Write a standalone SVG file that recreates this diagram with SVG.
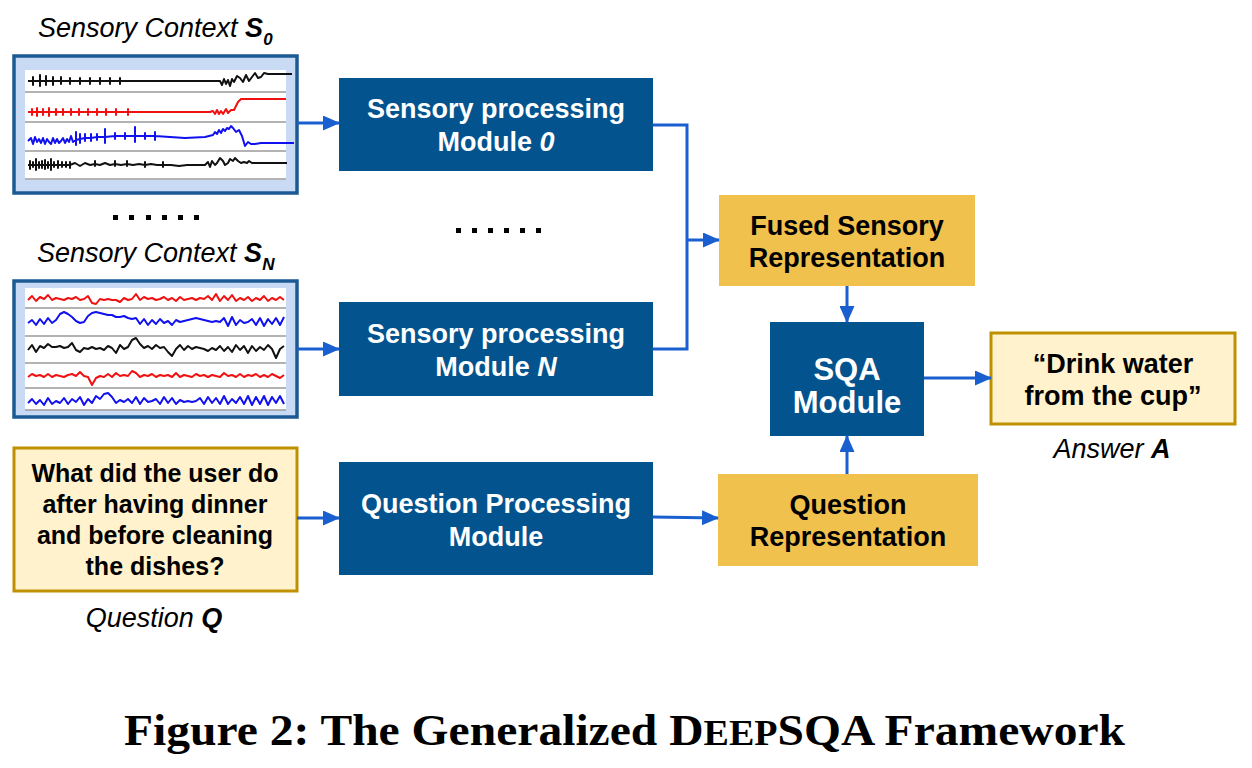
<svg xmlns="http://www.w3.org/2000/svg" width="1252" height="768" viewBox="0 0 1252 768">
<style>
.lbl{font-family:"Liberation Sans",Arial,sans-serif;font-size:27px;font-style:italic;fill:#000}
.b{font-weight:bold}
.mod{fill:#03538f}
.mt{font-family:"Liberation Sans",Arial,sans-serif;font-size:27px;font-weight:bold;fill:#fff;text-anchor:middle}
.big{font-size:31px}
.rep{fill:#f1c14d}
.rt{font-family:"Liberation Sans",Arial,sans-serif;font-size:27px;font-weight:bold;fill:#000;text-anchor:middle}
.qt{font-family:"Liberation Sans",Arial,sans-serif;font-size:25px;font-weight:bold;fill:#000;text-anchor:middle}
.qa{fill:#fff2cc;stroke:#bf9000;stroke-width:3}
.sbox{fill:#c9daf5;stroke:#1b5a94;stroke-width:3.5}
.inner{fill:#fff}
.sep{stroke:#9a9a9a;stroke-width:1.5}
.sig{fill:none;stroke-width:2;stroke-linejoin:round}
.k{stroke:#111}
.r{stroke:#f01010}
.bl{stroke:#1010f0}
.conn{fill:none;stroke:#1a5fd0;stroke-width:3}
.dot{fill:#000}
.sub{font-size:17px}
.sc{font-size:36px}
</style>
<defs>
<marker id="ah" markerUnits="userSpaceOnUse" markerWidth="17" markerHeight="15" refX="16" refY="7.5" orient="auto">
<path d="M0,0 L17,7.5 L0,15 z" fill="#1a5fd0"/>
</marker>
</defs>
<rect width="1252" height="768" fill="#fff"/>

<g id="sensory0">
<text class="lbl" x="38" y="37">Sensory Context <tspan class="b">S</tspan><tspan class="b sub" dy="8">0</tspan></text>
<rect class="sbox" x="14" y="56" width="283" height="137"/>
<rect class="inner" x="25" y="70" width="261" height="110"/>
<line class="sep" x1="25" y1="92" x2="286" y2="92"/>
<line class="sep" x1="25" y1="122" x2="286" y2="122"/>
<line class="sep" x1="25" y1="151" x2="286" y2="151"/>
<line class="sep" x1="25" y1="179" x2="286" y2="179"/>
<path class="sig k" d="M28,81 h5 v-4 v8 v-4 h7 v-6 v11 v-5 h6 v-5 v9 v-4 h7 v-4 v8 v-4 h8 v-4 v7 v-3 h9 v-3 v6 v-3 h10 v-3 v6 v-3 h10 v-3 v6 v-3 h10 v-3 v6 v-3 h10 v-3 v6 v-3 h10 v-3 v6 v-3 h100 l2,4 l2,-6 l2,5 l2,-4 l2,6 l2,-7 l2,3 l3,-6 l3,2 l3,4 l3,-7 l3,6 l3,-4 l3,-4 l3,5 l3,-1 l3,-4 l4,1 h24"/>
<path class="sig r" d="M28,112 h4 v-3 v6 v-3 h5 v-4 v8 v-4 h6 v-3 v6 v-3 h6 v-4 v8 v-4 h7 v-3 v6 v-3 h7 v-3 v6 v-3 h8 v-3 v6 v-3 h8 v-3 v6 v-3 h9 v-3 v6 v-3 h9 v-3 v6 v-3 h9 v-3 v6 v-3 h10 v-3 v6 v-3 h12 v-3 v6 v-3 h82 l3,-1 l2,3 l2,-4 l2,4 l2,-3 l2,3 l3,-5 l2,4 l3,-3 l3,0 l4,-8 l3,-3 h45"/>
<path class="sig bl" d="M28,141 l3,-3 l2,6 l2,-7 l2,5 l2,-3 l2,4 l2,-5 l2,6 l2,-5 l2,3 l2,2 l2,-6 l2,5 l2,-4 l2,4 l2,-2 l2,-3 l2,5 l2,-4 l2,3 l2,-6 l2,6 l3,-2 v-8 v13 v-5 l4,-1 v-5 v9 v-4 l5,-1 v-4 v7 v-3 l6,0 v-4 v7 v-3 l6,-1 v-3 v6 v-3 l8,0 v-8 v14 v-6 l10,-1 v-3 v6 v-3 l10,0 v-3 v6 v-3 l10,0 v-9 v15 v-6 l10,0 v-3 v6 v-3 l10,0 v-4 v8 v-4 l30,2 l20,-1 l8,-2 l2,-3 l2,2 l2,-4 l2,3 l2,-4 l2,2 l2,-3 l2,1 l2,-3 l2,2 l3,4 l3,-2 l3,6 l3,10 l3,-4 l3,2 l4,0 l6,-1 h33"/>
<path class="sig k" d="M28,165 h2 v-4 v8 v-4 h3 v-3 v5 v-2 h3 v-6 v11 v-5 h3 v-3 v6 v-3 h3 v-4 v7 v-3 h3 v-5 v9 v-4 h3 v-3 v6 v-3 h3 v-6 v11 v-5 h3 v-3 v5 v-2 h4 v-4 v7 v-3 h4 v-3 v5 v-2 h4 v-3 v5 v-2 h4 v-3 v6 v-3 l5,-2 l5,3 l5,-3 l5,2 l5,-1 v-3 v5 v-2 l5,1 l5,-2 l5,2 l5,-1 v-3 v5 v-2 l6,1 l6,-1 v-3 v5 v-2 l6,1 l6,-1 l6,1 v-3 v5 v-2 l6,-1 l6,1 l6,0 v-3 v5 v-2 l8,0 l8,1 l8,-1 l10,0 l8,0 l3,-3 l2,5 l2,-6 l3,4 l2,-2 l3,-5 l3,3 l2,4 l3,-2 l2,-4 l3,2 l2,-3 l3,3 l3,2 l3,-1 l3,1 l2,-2 l3,2 h35"/>
</g>

<g id="dotsLeft" class="dot">
<rect x="113" y="215" width="5" height="5"/><rect x="129" y="215" width="5" height="5"/><rect x="146" y="215" width="5" height="5"/><rect x="162" y="215" width="5" height="5"/><rect x="178" y="215" width="5" height="5"/><rect x="194" y="215" width="5" height="5"/>
</g>
<g id="dotsMid" class="dot">
<rect x="456" y="228" width="5" height="5"/><rect x="472" y="228" width="5" height="5"/><rect x="488" y="228" width="5" height="5"/><rect x="504" y="228" width="5" height="5"/><rect x="520" y="228" width="5" height="5"/><rect x="536" y="228" width="5" height="5"/>
</g>

<g id="sensoryN">
<text class="lbl" x="37" y="262">Sensory Context <tspan class="b">S</tspan><tspan class="b sub" dy="8">N</tspan></text>
<rect class="sbox" x="14" y="281" width="283" height="136"/>
<rect class="inner" x="25" y="288" width="261" height="122"/>
<line class="sep" x1="25" y1="308" x2="286" y2="308"/>
<line class="sep" x1="25" y1="336" x2="286" y2="336"/>
<line class="sep" x1="25" y1="363" x2="286" y2="363"/>
<line class="sep" x1="25" y1="388" x2="286" y2="388"/>
<line class="sep" x1="25" y1="410" x2="286" y2="410"/>
<path class="sig r" d="M28,300 32,296 36,301 40,297 44,299 48,295 52,300 56,298 60,299 64,300 68,298 72,299 76,297 80,300 84,299 88,296 92,303 96,304 100,299 104,300 108,299 112,300 116,300 120,302 124,298 128,300 132,299 136,294 140,300 144,297 148,299 152,298 156,300 160,299 164,297 168,300 172,298 176,301 180,297 184,300 188,299 192,298 196,300 200,298 204,299 208,296 212,300 216,294 220,301 224,296 228,300 232,295 236,301 240,298 244,300 248,297 252,301 256,298 260,300 264,296 268,301 272,298 276,300 280,297 284,300"/>
<path class="sig bl" d="M28,323 32,320 36,325 40,319 44,324 48,318 52,323 56,320 60,314 64,312 68,314 72,317 76,321 80,323 84,322 88,316 92,313 96,312 100,313 104,314 108,315 112,315 116,317 120,317 124,316 128,318 132,319 136,318 140,324 144,319 148,325 152,320 156,324 160,319 164,323 168,321 172,325 176,320 180,322 184,321 188,320 192,319 196,318 200,319 204,320 208,321 212,322 216,321 220,322 224,318 228,326 232,317 236,325 240,320 244,323 248,322 252,319 256,325 260,318 264,326 268,319 272,324 276,318 280,325 284,317"/>
<path class="sig k" d="M28,350 32,345 36,352 40,346 44,348 48,344 52,347 56,347 60,346 64,348 68,347 72,343 76,350 80,352 84,348 88,349 92,347 96,349 100,348 104,350 108,346 112,348 116,353 120,345 124,349 128,347 132,340 136,338 140,344 144,348 148,346 152,349 156,345 160,348 164,347 168,352 172,356 176,349 180,345 184,350 188,346 192,349 196,347 200,348 204,349 208,351 212,348 216,350 220,346 224,351 228,347 232,352 236,345 240,350 244,346 248,353 252,346 256,351 260,347 264,350 268,345 272,349 276,358 280,349 284,346"/>
<path class="sig r" d="M28,377 32,374 36,376 40,375 44,377 48,374 52,377 56,375 60,376 64,377 68,375 72,374 76,376 80,372 84,376 88,377 92,385 96,378 100,376 104,377 108,374 112,377 116,373 120,376 124,375 128,376 132,371 136,373 140,377 144,375 148,376 152,374 156,377 160,375 164,376 168,375 172,377 176,373 180,377 184,375 188,376 192,377 196,374 200,376 204,375 208,377 212,375 216,376 220,377 224,373 228,376 232,375 236,377 240,374 244,377 248,375 252,376 256,374 260,377 264,375 268,377 272,374 276,376 280,378 284,375"/>
<path class="sig bl" d="M28,403 32,399 36,404 40,400 44,405 48,398 52,404 56,401 60,403 64,398 68,404 72,399 76,402 80,397 84,405 88,399 92,403 96,396 100,399 104,394 108,393 112,397 116,403 120,400 124,402 128,399 132,403 136,397 140,404 144,398 148,402 152,401 156,399 160,404 164,397 168,403 172,398 176,404 180,400 184,402 188,401 192,402 196,401 200,398 204,404 208,397 212,403 216,398 220,404 224,396 228,404 232,399 236,403 240,397 244,404 248,396 252,405 256,397 260,404 264,396 268,405 272,397 276,403 280,396 284,404"/>
</g>

<g id="question">
<rect class="qa" x="14" y="448" width="283" height="143"/>
<text class="qt" x="155" y="482">What did the user do</text>
<text class="qt" x="155" y="513">after having dinner</text>
<text class="qt" x="155" y="544">and before cleaning</text>
<text class="qt" x="155" y="575">the dishes?</text>
<text class="lbl" x="154" y="627" text-anchor="middle">Question <tspan class="b">Q</tspan></text>
</g>

<g id="module0">
<rect class="mod" x="339" y="78" width="314" height="93"/>
<text class="mt" x="496" y="118">Sensory processing</text>
<text class="mt" x="496" y="151">Module <tspan font-style="italic">0</tspan></text>
</g>

<g id="moduleN">
<rect class="mod" x="339" y="302" width="314" height="94"/>
<text class="mt" x="496" y="343">Sensory processing</text>
<text class="mt" x="496" y="376">Module <tspan font-style="italic">N</tspan></text>
</g>

<g id="qpm">
<rect class="mod" x="339" y="462" width="314" height="113"/>
<text class="mt" x="496" y="513">Question Processing</text>
<text class="mt" x="496" y="546">Module</text>
</g>

<g id="fused">
<rect class="rep" x="719" y="195" width="256" height="91"/>
<text class="rt" x="847" y="235">Fused Sensory</text>
<text class="rt" x="847" y="267">Representation</text>
</g>

<g id="qrep">
<rect class="rep" x="718" y="474" width="260" height="92"/>
<text class="rt" x="848" y="514">Question</text>
<text class="rt" x="848" y="546">Representation</text>
</g>

<g id="sqa">
<rect class="mod" x="770" y="322" width="154" height="114"/>
<text class="mt big" x="847" y="380">SQA</text>
<text class="mt big" x="847" y="413">Module</text>
</g>

<g id="answer">
<rect class="qa" x="991" y="333" width="244" height="91"/>
<text class="rt" x="1113" y="373">“Drink water</text>
<text class="rt" x="1113" y="405">from the cup”</text>
<text class="lbl" x="1112" y="458" text-anchor="middle">Answer <tspan class="b">A</tspan></text>
</g>

<g id="connectors">
<line class="conn" x1="297" y1="123" x2="339" y2="123" marker-end="url(#ah)"/>
<line class="conn" x1="297" y1="349" x2="339" y2="349" marker-end="url(#ah)"/>
<line class="conn" x1="297" y1="518" x2="339" y2="518" marker-end="url(#ah)"/>
<line class="conn" x1="653" y1="517" x2="718" y2="518" marker-end="url(#ah)"/>
<polyline class="conn" points="653,125 687,125 687,349 653,349"/>
<line class="conn" x1="687" y1="240" x2="719" y2="240" marker-end="url(#ah)"/>
<line class="conn" x1="847" y1="286" x2="847" y2="322" marker-end="url(#ah)"/>
<line class="conn" x1="847" y1="474" x2="847" y2="436" marker-end="url(#ah)"/>
<line class="conn" x1="924" y1="378" x2="991" y2="378" marker-end="url(#ah)"/>
</g>

<g id="caption">
<text x="124" y="745" font-family="'Liberation Serif','Times New Roman',serif" font-weight="bold" font-size="45" textLength="1001" lengthAdjust="spacingAndGlyphs">Figure 2: The Generalized D<tspan class="sc">EEP</tspan>SQA Framework</text>
</g>
</svg>
